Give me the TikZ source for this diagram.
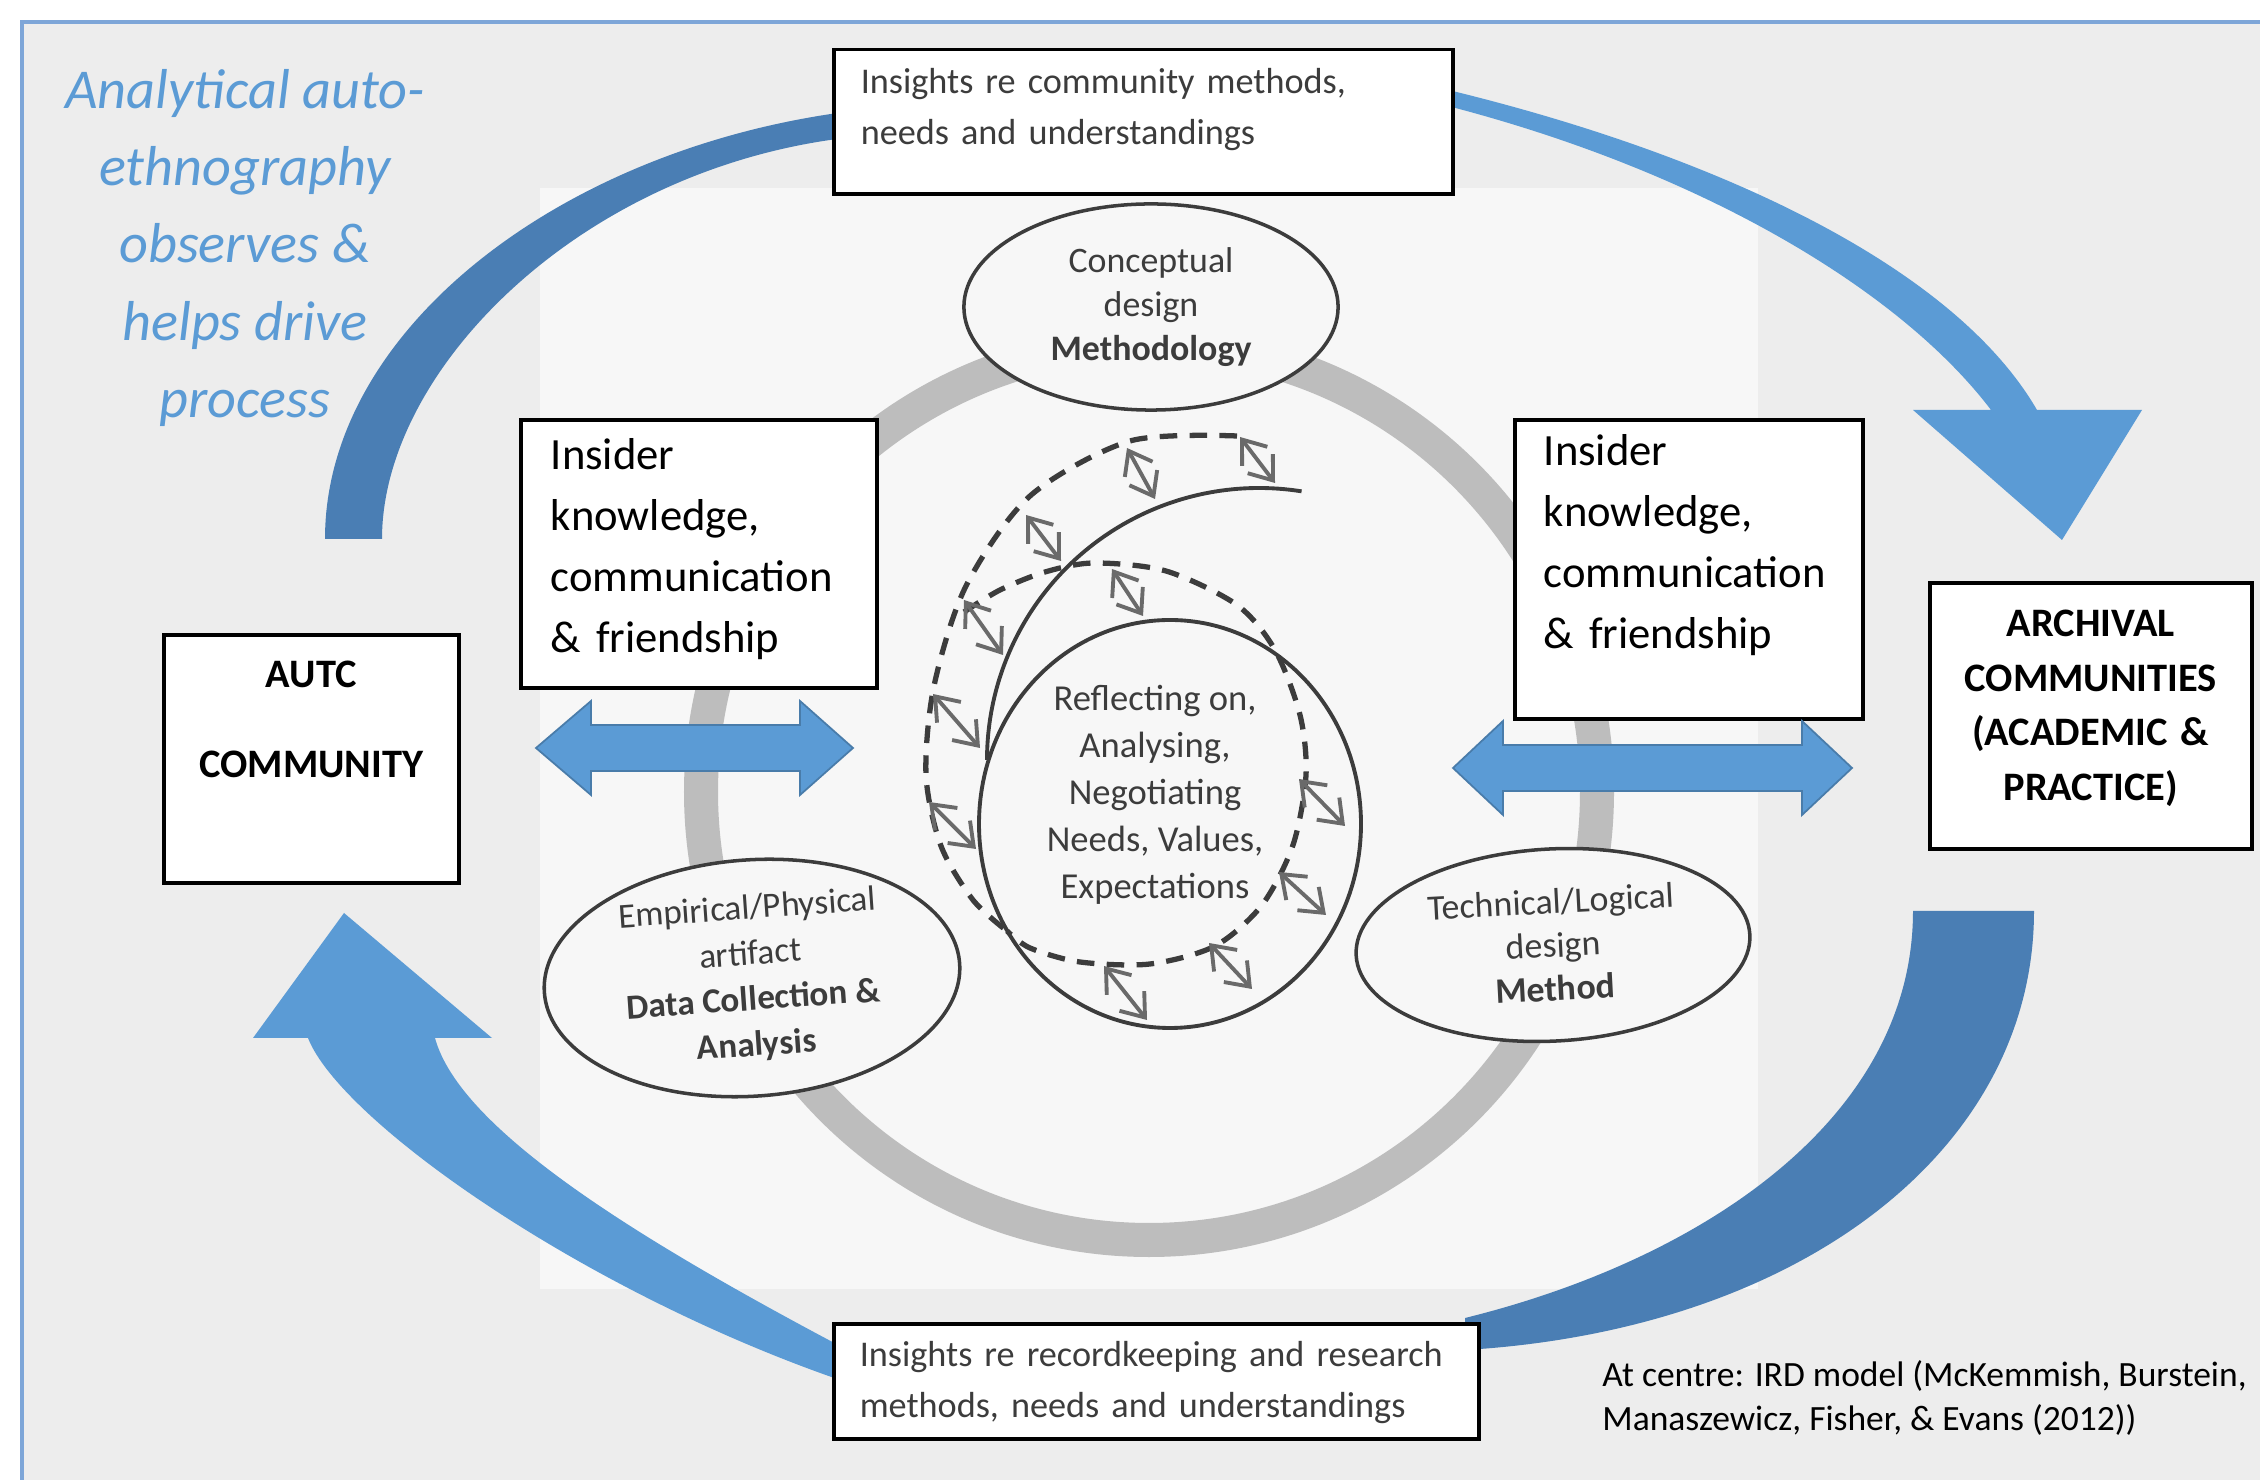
\documentclass[tikz,border=0pt]{standalone}
\usepackage{fontspec}
\setmainfont{Carlito}
\usepackage{tikz}
\usetikzlibrary{shapes.geometric, arrows.meta, positioning}

\definecolor{paleblue}{HTML}{5B9BD5}
\definecolor{deepblue}{HTML}{4A7EB4}
\definecolor{framecol}{HTML}{7EA6D8}
\definecolor{canvas}{HTML}{EDEDED}
\definecolor{scanbg}{HTML}{F7F7F7}
\definecolor{scanink}{HTML}{3C3C3C}
\definecolor{ringgray}{HTML}{BDBDBD}
\definecolor{arrowgray}{HTML}{6A6A6A}

\begin{document}
\begin{tikzpicture}[x=0.01cm, y=-0.01cm,
    block/.style={draw, line width=1pt, fill=white, inner ysep=0pt, align=left, anchor=north west},
    insight/.style={block, inner xsep=0.27cm, text=scanink, font=\fontsize{10.3}{14.3}\selectfont},
    insider/.style={block, inner xsep=0.3cm, font=\fontsize{12.7}{17.3}\selectfont},
    community/.style={block, inner xsep=0pt, align=center, font=\bfseries\fontsize{11.5}{15.5}\selectfont},
    phase/.style={ellipse, draw=scanink, line width=1pt, fill=scanbg, inner sep=0pt, align=center, text=scanink, font=\fontsize{10.2}{12.4}\selectfont},
    spiral/.style={draw=scanink, line width=1.1pt},
    dashspiral/.style={spiral, line width=1.5pt, dash pattern=on 5pt off 3.5pt},
    link/.style={draw=arrowgray, line width=1.1pt, {Straight Barb[length=6pt,width=9pt]}-{Straight Barb[length=6pt,width=9pt]}},
    flow/.style={fill=paleblue},
    band/.style={fill=deepblue},
    twoway/.style={fill=paleblue, draw=paleblue!80!black, line width=0.5pt}]

    \useasboundingbox (0,0) rectangle (2260,1480);
    \fill[white] (0,0) rectangle (2260,1480);
    \fill[canvas] (22,22) rectangle (2260,1480);
    \draw[framecol, line width=1.2pt] (2260,22) -- (22,22) -- (22,1480);

    % IRD model at centre
    \fill[scanbg] (540,188) rectangle (1758,1289);
    \draw[ringgray, line width=0.34cm] (1149,792) circle [radius=448];

    \node [phase, minimum width=3.74cm, minimum height=2.06cm] (concept) at (1151,307) {Conceptual\\design\\\textbf{Methodology}};
    \node [phase, minimum width=4.16cm, minimum height=2.26cm, rotate=4, font=\fontsize{10}{13}\selectfont] (empirical) at (752,978) {Empirical/Physical\\artifact\\\textbf{Data Collection \&}\\\textbf{Analysis}};
    \node [phase, minimum width=3.94cm, minimum height=1.92cm, rotate=3] (technical) at (1553,945) {Technical/Logical\\design\\\textbf{Method}};

    \draw [spiral] (1170,824) ellipse [x radius=191, y radius=204];
    \draw [spiral] (987,760) arc [start angle=180, end angle=279, radius=272];
    \draw [dashspiral] plot [smooth] coordinates {(1237,436) (1130,441) (1030,496) (966,586) (934,686) (926,775) (941,846) (973,900) (1007,931)};
    \draw [dashspiral] plot [smooth] coordinates {(964,612) (1000,590) (1045,572) (1094,563) (1166,571) (1237,605) (1275,650) (1300,715) (1306,775) (1293,845) (1262,905) (1215,946) (1150,964) (1080,962) (1030,948) (1007,931)};
    \foreach \xa/\ya/\xb/\yb in {1240/437/1275/483, 1127/448/1155/499, 1026/515/1061/561, 1112/569/1143/616,
        964/600/1003/655, 933/694/980/748, 929/802/976/849, 1299/779/1345/826, 1279/872/1326/915,
        1209/943/1252/989, 1104/966/1147/1020}
        \draw [link] (\xa,\ya) -- (\xb,\yb);
    \node [align=center, text=scanink, font=\fontsize{10.4}{13.4}\selectfont] (reflect) at (1155,795) {Reflecting on,\\Analysing,\\Negotiating\\Needs, Values,\\Expectations};

    % cycle of arrows
    \fill [band] (325,539) .. controls (325,330) and (560,150) .. (845,112) -- (845,138) .. controls (580,170) and (382,370) .. (382,539) -- cycle;
    \fill [flow] (1440,88) .. controls (1700,150) and (1950,260) .. (2037,410) -- (2142,410) -- (2062,540) -- (1913,410) -- (1991,410) .. controls (1900,290) and (1700,170) .. (1440,104) -- cycle;
    \fill [band] (2034,911) .. controls (2034,1150) and (1800,1330) .. (1465,1350) -- (1465,1318) .. controls (1700,1260) and (1913,1120) .. (1913,911) -- cycle;
    \fill [flow] (840,1380) .. controls (580,1290) and (340,1120) .. (308,1038) -- (253,1038) -- (344,913) -- (492,1038) -- (435,1038) .. controls (460,1130) and (640,1240) .. (840,1346) -- cycle;

    \node [insight, text width=5.65cm, text height=0.44cm, text depth=1.00cm] (insightstop) at (832,48) {Insights re community methods,\\needs and understandings};
    \node [insight, inner xsep=0.26cm, text width=5.93cm, text height=0.43cm, text depth=0.72cm] (insightsbottom) at (832,1322) {Insights re recordkeeping and research\\methods, needs and understandings};
    \node [insider, text width=2.96cm, text height=0.50cm, text depth=2.18cm] (insiderleft) at (519,418) {Insider\\knowledge,\\communication\\\& friendship};
    \node [insider, inner xsep=0.29cm, text width=2.90cm, text height=0.46cm, text depth=2.53cm] (insiderright) at (1513,418) {Insider\\knowledge,\\communication\\\& friendship};
    \node [community, text width=2.95cm, text height=0.53cm, text depth=1.95cm] (autc) at (162,633) {AUTC\\[10.1pt]COMMUNITY};
    \node [community, text width=3.22cm, text height=0.54cm, text depth=2.12cm] (archival) at (1928,581) {ARCHIVAL\\COMMUNITIES\\(ACADEMIC \&\\PRACTICE)};

    \fill [twoway] (536,748) -- (591,701) -- (591,725) -- (800,725) -- (800,701) -- (853,748) -- (800,795) -- (800,771) -- (591,771) -- (591,795) -- cycle;
    \fill [twoway] (1453,768) -- (1503,721) -- (1503,745) -- (1802,745) -- (1802,721) -- (1852,768) -- (1802,815) -- (1802,791) -- (1503,791) -- (1503,815) -- cycle;

    \node [text=paleblue, align=center, font=\itshape\fontsize{16}{22}\selectfont] (autoethno) at (245,248) {Analytical auto-\\ethnography\\observes \&\\helps drive\\process};
    \node [anchor=west, align=left, font=\fontsize{10.1}{12.5}\selectfont] (source) at (1590,1398) {At centre: IRD model (McKemmish, Burstein,\\Manaszewicz, Fisher, \& Evans (2012))};
\end{tikzpicture}
\end{document}
